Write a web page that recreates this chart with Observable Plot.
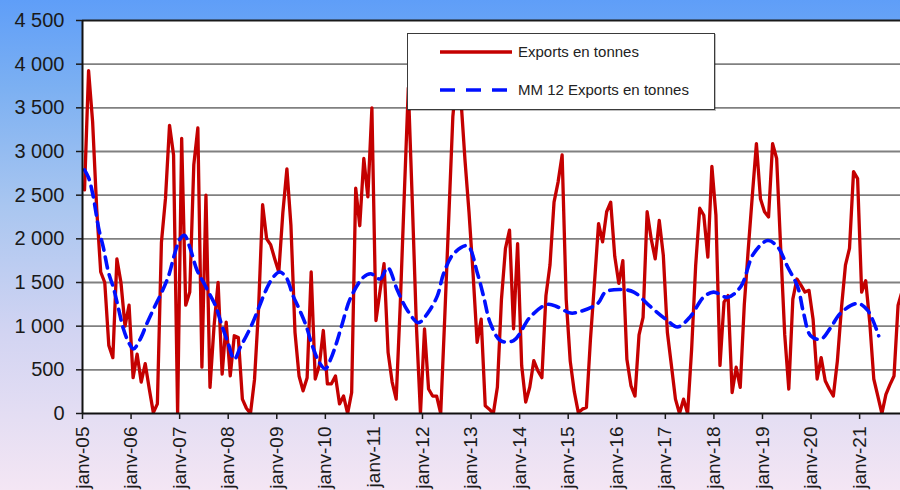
<!DOCTYPE html>
<html>
<head>
<meta charset="utf-8">
<script src="https://cdn.jsdelivr.net/npm/d3@7"></script>
<script src="https://cdn.jsdelivr.net/npm/@observablehq/plot@0.6"></script>
<style>
  html, body { margin: 0; padding: 0; }
  body {
    width: 900px; height: 490px; overflow: hidden;
    background: linear-gradient(to bottom, #5f9ef8 0%, #7cb0f2 18%, #a9c6f0 42%, #d2d4f2 68%, #f4e6f4 100%);
    font-family: "Liberation Sans", Arial, sans-serif;
  }
  #wrap { position: relative; width: 900px; height: 490px; }
  #legend {
    position: absolute; left: 407px; top: 33px; width: 308px; height: 77px;
    background: #fff; border: 1px solid #3a3a3a; box-sizing: border-box;
    box-shadow: 1px 1px 0 rgba(0,0,0,0.25);
  }
  .row { position: absolute; left: 32px; display: flex; align-items: center; font-size: 15px; color: #222; }
  .row svg { margin-right: 6px; }
</style>
</head>
<body>
<div id="wrap"></div>
<script>
// Monthly exports in tonnes, Jan 2005 onwards
const y2005 = [2560, 3925, 3340, 2350, 1620, 1500, 780, 640, 1770, 1500, 1000, 1240];
const y2006 = [410, 680, 360, 570, 280, 10, 110, 1960, 2460, 3300, 2960, 0];
const y2007 = [3150, 1240, 1390, 2850, 3270, 530, 2500, 300, 1000, 1500, 450, 1045];
const y2008 = [430, 890, 870, 165, 60, 0, 390, 1200, 2390, 2000, 1930, 1770];
const y2009 = [1620, 2300, 2800, 2150, 930, 430, 260, 410, 1620, 395, 550, 950];
const y2010 = [340, 340, 430, 110, 200, 0, 240, 2580, 2150, 2920, 2480, 3500];
const y2011 = [1065, 1400, 1715, 700, 360, 165, 1240, 2500, 3730, 2400, 1000, 0];
const y2012 = [970, 280, 200, 200, 0, 1100, 2250, 3400, 3900, 3600, 2900, 2300];
const y2013 = [1600, 815, 1080, 90, 50, 0, 300, 1300, 1890, 2100, 970, 1945];
const y2014 = [550, 130, 300, 605, 490, 410, 1350, 1700, 2420, 2650, 2960, 1310];
const y2015 = [600, 250, 10, 50, 70, 850, 1500, 2175, 1965, 2310, 2420, 1800];
const y2016 = [1490, 1750, 620, 320, 200, 900, 1100, 2310, 2000, 1770, 2210, 1810];
const y2017 = [930, 550, 165, 0, 165, 0, 740, 1700, 2350, 2270, 1790, 2830];
const y2018 = [2270, 550, 1275, 1350, 240, 530, 300, 1240, 1890, 2500, 3090, 2460];
const y2019 = [2310, 2250, 3090, 2920, 1890, 900, 280, 1310, 1540, 1470, 1390, 1410];
const y2020 = [1080, 395, 640, 375, 280, 200, 600, 1200, 1700, 1890, 2770, 2690];
const y2021 = [1390, 1520, 1045, 395, 200, 0, 220, 330, 430, 1240, 1400];

// MM12 (12-month moving average): month offset from janv-05, value
const mmMonth = [0, 1, 2, 3.5, 4.7, 5.9, 7.2, 8.4, 9.6, 10.9, 12.1, 13.8, 15.4, 17.5, 19.1, 20.8, 22.4, 23.6, 24.7, 26.1, 27.8, 29.4, 31.1, 32.3, 34, 35.5, 37, 38.5, 40, 41.6, 43.3, 45, 46.6, 48.2, 49.8, 51.5, 53, 54.7, 56.4, 58, 59.5, 60.8, 62.2, 63.5, 65.7, 68.9, 70.7, 73, 74.9, 77.3, 79.8, 82.5, 84.8, 87.2, 88.7, 91.2, 94.6, 97.1, 98.6, 100.3, 102.8, 106, 110.2, 114.4, 116.9, 120.1, 122.6, 126.8, 128.7, 132.4, 135.7, 139.9, 144, 146.5, 149.7, 152.9, 155.4, 158.9, 162.1, 165.3, 168.8, 171.2, 173.7, 176.2, 177.7, 179.4, 181.9, 184.3, 186.8, 191, 193.5, 196.2];
const mmValue = [2790, 2700, 2520, 2120, 1890, 1620, 1430, 1200, 970, 815, 740, 855, 1030, 1240, 1390, 1580, 1850, 2000, 2040, 1890, 1640, 1500, 1350, 1240, 1000, 800, 620, 760, 890, 1045, 1240, 1430, 1560, 1620, 1560, 1350, 1200, 1010, 760, 585, 510, 620, 800, 1000, 1320, 1560, 1600, 1540, 1670, 1410, 1180, 1040, 1150, 1350, 1600, 1830, 1920, 1600, 1340, 1030, 835, 835, 1110, 1250, 1220, 1150, 1170, 1260, 1390, 1420, 1390, 1220, 1065, 990, 1110, 1330, 1390, 1330, 1450, 1830, 1980, 1910, 1680, 1450, 1140, 890, 850, 980, 1150, 1260, 1180, 890];

const yearLabels = ["janv-05","janv-06","janv-07","janv-08","janv-09","janv-10","janv-11","janv-12","janv-13","janv-14","janv-15","janv-16","janv-17","janv-18","janv-19","janv-20","janv-21"];
const yTicks = [0, 500, 1000, 1500, 2000, 2500, 3000, 3500, 4000, 4500];

const seriesName = "Exports en tonnes";
const mmName = "MM 12 Exports en tonnes";

const monthly = [y2005, y2006, y2007, y2008, y2009, y2010, y2011, y2012, y2013, y2014, y2015, y2016, y2017, y2018, y2019, y2020, y2021].flat();
const exportsData = monthly.map((v, i) => ({x: i + 0.5, v}));
const mmData = mmMonth.map((m, i) => ({x: m + 0.5, v: mmValue[i]}));
const xTicks = yearLabels.map((_, i) => i * 12);

const locale = d3.formatLocale({decimal: ",", thousands: " ", grouping: [3], currency: ["", " €"]});
const fmt = locale.format(",");

const chart = Plot.plot({
  width: 900, height: 490,
  marginLeft: 82, marginRight: 0, marginTop: 20, marginBottom: 77,
  style: {background: "transparent", fontFamily: "'Liberation Sans', Arial, sans-serif", fontSize: "18px", color: "#1a1a1a", overflow: "visible"},
  x: {type: "linear", domain: [0, 202.1]},
  y: {domain: [0, 4500]},
  marks: [
    Plot.frame({fill: "white", stroke: "none"}),
    Plot.gridY(yTicks.filter(d => d > 0 && d < 4500), {stroke: "#808080", strokeOpacity: 1, strokeWidth: 1.8}),
    Plot.line(exportsData, {x: "x", y: "v", stroke: "#c40000", strokeWidth: 3.3, strokeLinejoin: "round", clip: true}),
    Plot.line(mmData, {x: "x", y: "v", stroke: "#0010ff", strokeWidth: 3.6, strokeDasharray: "11,7", curve: "catmull-rom", clip: true}),
    Plot.ruleY([4500], {stroke: "#1a1a1a", strokeWidth: 2}),
    Plot.ruleY([0], {stroke: "#111", strokeWidth: 2}),
    Plot.ruleX([0], {stroke: "#111", strokeWidth: 2}),
    Plot.axisY(yTicks, {tickSize: 6, tickPadding: 12, tickFormat: fmt, fontSize: 20, label: null, strokeWidth: 1.5}),
    Plot.axisX(xTicks, {tickSize: 6, tickPadding: 7, tickRotate: -90, tickFormat: d => yearLabels[Math.round(d / 12)], fontSize: 19, label: null, strokeWidth: 1.5})
  ]
});

const wrap = document.getElementById("wrap");
wrap.appendChild(chart);

const legend = document.createElement("div");
legend.id = "legend";
legend.innerHTML = `
  <div class="row" style="top:9px"><svg width="72" height="8"><line x1="0" x2="72" y1="4" y2="4" stroke="#c40000" stroke-width="3.3"/></svg><span>${seriesName}</span></div>
  <div class="row" style="top:47px"><svg width="72" height="8"><line x1="0" x2="72" y1="4" y2="4" stroke="#0010ff" stroke-width="3.6" stroke-dasharray="15,11"/></svg><span>${mmName}</span></div>`;
wrap.appendChild(legend);
</script>
</body>
</html>
